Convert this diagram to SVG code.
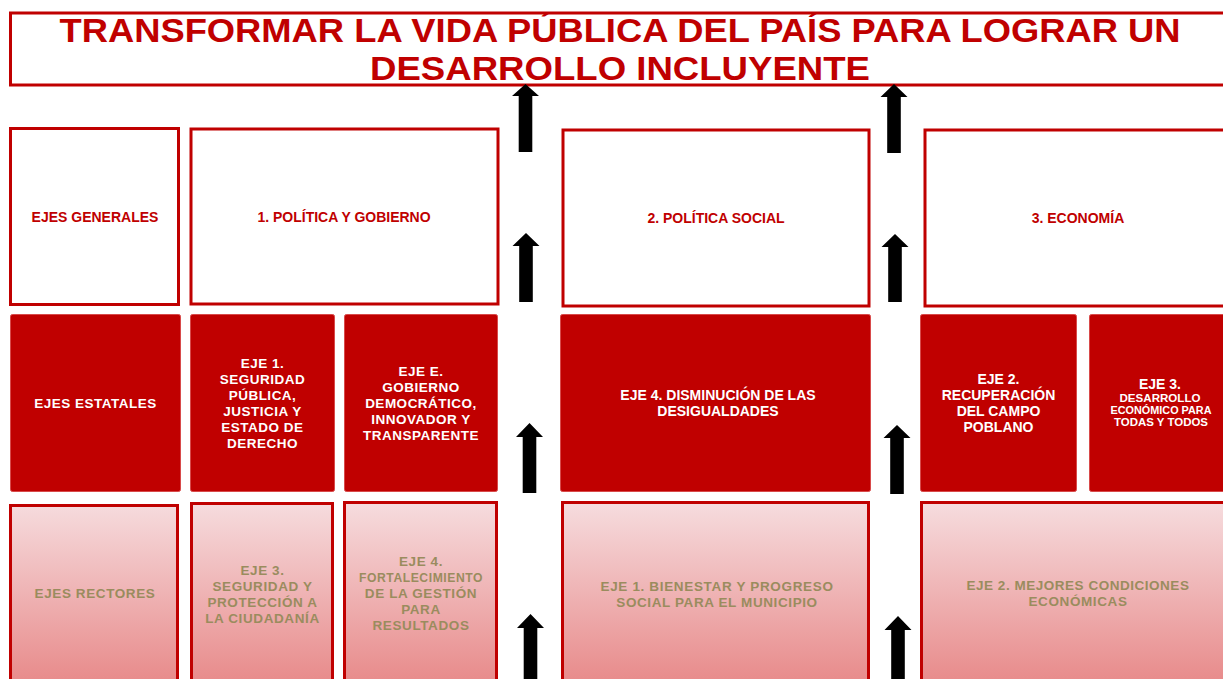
<svg xmlns="http://www.w3.org/2000/svg" width="1223" height="679" viewBox="0 0 1223 679">
<style>
text{font-family:"Liberation Sans",Arial,sans-serif;font-weight:bold;text-anchor:middle}
.title{font-size:33px;fill:#c00000}
.top{fill:#fff;stroke:#c00000;stroke-width:3}
.toptx{font-size:14px;fill:#c00000}
.mid{fill:#c00000;stroke:#d84a4a;stroke-width:1}
.midtx{font-size:13.5px;fill:#fff;letter-spacing:0.5px}
.midtx2{font-size:14px;fill:#fff}
.bot{fill:url(#g);stroke:#c00000;stroke-width:3}
.bottx{font-size:13.5px;fill:#9a8c5e;letter-spacing:0.6px}
.arr{fill:#000}
</style>
<defs>
<linearGradient id="g" gradientUnits="userSpaceOnUse" x1="0" y1="503" x2="0" y2="679">
<stop offset="0" stop-color="#f6dcde"/>
<stop offset="1" stop-color="#e88c8c"/>
</linearGradient>
</defs>
<rect width="1223" height="679" fill="#fff"/>
<g id="title">
<rect x="10.5" y="13" width="1240" height="72" fill="#fff" stroke="#c00000" stroke-width="3"/>
<text class="title" x="620" y="42" textLength="1121" lengthAdjust="spacingAndGlyphs">TRANSFORMAR LA VIDA PÚBLICA DEL PAÍS PARA LOGRAR UN</text>
<text class="title" x="620" y="80" textLength="500" lengthAdjust="spacingAndGlyphs">DESARROLLO INCLUYENTE</text>
</g>
<g id="ejes-generales"><rect class="top" x="10.5" y="128.5" width="168" height="176"/><text class="toptx" x="95" y="221.5">EJES GENERALES</text></g>
<g id="politica-gobierno"><rect class="top" x="191" y="129" width="307" height="175"/><text class="toptx" x="344" y="221.5">1. POLÍTICA Y GOBIERNO</text></g>
<g id="politica-social"><rect class="top" x="563" y="130" width="306" height="176"/><text class="toptx" x="716" y="223">2. POLÍTICA  SOCIAL</text></g>
<g id="economia"><rect class="top" x="925" y="130" width="320" height="176"/><text class="toptx" x="1078" y="223">3. ECONOMÍA</text></g>

<g id="ejes-estatales"><rect class="mid" x="10.5" y="314.5" width="170" height="177" rx="2"/><text class="midtx" x="95.5" y="408">EJES ESTATALES</text></g>
<g id="eje1-seguridad"><rect class="mid" x="190.5" y="314.5" width="144" height="177" rx="2"/>
<text class="midtx" x="262.5" y="368">EJE 1.</text><text class="midtx" x="262.5" y="384">SEGURIDAD</text><text class="midtx" x="262.5" y="400">PÚBLICA,</text><text class="midtx" x="262.5" y="416">JUSTICIA  Y</text><text class="midtx" x="262.5" y="432">ESTADO DE</text><text class="midtx" x="262.5" y="448">DERECHO</text></g>
<g id="ejeE-gobierno"><rect class="mid" x="344.5" y="314.5" width="153" height="177" rx="2"/>
<text class="midtx" x="421" y="376">EJE E.</text><text class="midtx" x="421" y="392">GOBIERNO</text><text class="midtx" x="421" y="408">DEMOCRÁTICO,</text><text class="midtx" x="421" y="424">INNOVADOR  Y</text><text class="midtx" x="421" y="440">TRANSPARENTE</text></g>
<g id="eje4-desigualdades"><rect class="mid" x="560.5" y="314.5" width="310" height="177" rx="2"/>
<text class="midtx2" x="718" y="400">EJE 4. DISMINUCIÓN  DE LAS</text><text class="midtx2" x="718" y="416">DESIGUALDADES</text></g>
<g id="eje2-campo"><rect class="mid" x="920.5" y="314.5" width="156" height="177" rx="2"/>
<text class="midtx2" x="998.5" y="384">EJE 2.</text><text class="midtx2" x="998.5" y="400">RECUPERACIÓN</text><text class="midtx2" x="998.5" y="416">DEL CAMPO</text><text class="midtx2" x="998.5" y="432">POBLANO</text></g>
<g id="eje3-desarrollo"><rect class="mid" x="1089.5" y="314.5" width="160" height="177" rx="2"/>
<text class="midtx2" x="1160" y="389">EJE 3.</text>
<text x="1160" y="402" font-size="10.5" fill="#fff" textLength="81" lengthAdjust="spacingAndGlyphs">DESARROLLO</text>
<text x="1161" y="414" font-size="10.5" fill="#fff" textLength="101" lengthAdjust="spacingAndGlyphs">ECONÓMICO PARA</text>
<text x="1161" y="426" font-size="10.5" fill="#fff" textLength="94" lengthAdjust="spacingAndGlyphs">TODAS Y TODOS</text></g>

<g id="ejes-rectores"><rect class="bot" x="10.5" y="505.5" width="167" height="200"/><text class="bottx" x="95" y="598">EJES RECTORES</text></g>
<g id="eje3-proteccion"><rect class="bot" x="191.5" y="503.5" width="141" height="200"/>
<text class="bottx" x="262.5" y="575">EJE 3.</text><text class="bottx" x="262.5" y="591">SEGURIDAD Y</text><text class="bottx" x="262.5" y="607">PROTECCIÓN A</text><text class="bottx" x="262.5" y="623">LA CIUDADANÍA</text></g>
<g id="eje4-gestion"><rect class="bot" x="344.5" y="502.5" width="152" height="200"/>
<text class="bottx" x="421" y="566">EJE 4.</text><text class="bottx" x="421" y="582" font-size="12" textLength="124" lengthAdjust="spacingAndGlyphs">FORTALECIMIENTO</text><text class="bottx" x="421" y="598">DE LA GESTIÓN</text><text class="bottx" x="421" y="614">PARA</text><text class="bottx" x="421" y="630">RESULTADOS</text></g>
<g id="eje1-bienestar"><rect class="bot" x="562.5" y="502.5" width="306" height="200"/>
<text class="bottx" x="717" y="591" textLength="233">EJE 1. BIENESTAR  Y PROGRESO</text><text class="bottx" x="717" y="607">SOCIAL  PARA  EL MUNICIPIO</text></g>
<g id="eje2-condiciones"><rect class="bot" x="921.5" y="502.5" width="320" height="200"/>
<text class="bottx" x="1078" y="590" textLength="223">EJE 2. MEJORES CONDICIONES</text><text class="bottx" x="1078" y="606">ECONÓMICAS</text></g>

<g id="connectors">
<polygon class="arr" points="525.5,84 539,96 532.3,96 532.3,152 518.7,152 518.7,96 512,96"/>
<polygon class="arr" points="526,233 539.5,246 532.8,246 532.8,302 519.2,302 519.2,246 512.5,246"/>
<polygon class="arr" points="529.5,423 543,437 536.3,437 536.3,493 522.7,493 522.7,437 516,437"/>
<polygon class="arr" points="530.5,614 544,628 537.3,628 537.3,690 523.7,690 523.7,628 517,628"/>
<polygon class="arr" points="894,84 907.5,97 900.8,97 900.8,153 887.2,153 887.2,97 880.5,97"/>
<polygon class="arr" points="895,234 908.5,247 901.8,247 901.8,302 888.2,302 888.2,247 881.5,247"/>
<polygon class="arr" points="897,425 910.5,438 903.8,438 903.8,494 890.2,494 890.2,438 883.5,438"/>
<polygon class="arr" points="898,616 911.5,630 904.8,630 904.8,690 891.2,690 891.2,630 884.5,630"/>
</g>
</svg>
